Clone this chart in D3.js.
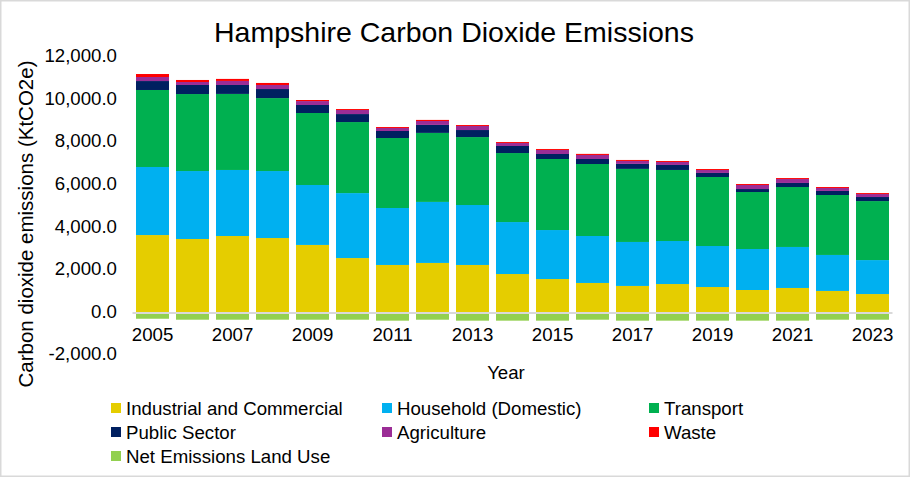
<!DOCTYPE html>
<html>
<head>
<meta charset="utf-8">
<style>
  body { margin: 0; background: #fff; }
  text { font-family: 'Liberation Sans', Arial, sans-serif; fill: #000; }
</style>
</head>
<body>
<script src="https://cdn.jsdelivr.net/npm/d3@7"></script>
<script>
const width = 910;
const height = 477;

// emissions by sector, KtCO2e
const years = [2005, 2006, 2007, 2008, 2009, 2010, 2011, 2012, 2013, 2014, 2015, 2016, 2017, 2018, 2019, 2020, 2021, 2022, 2023];
const industrial = [3660, 3475, 3615, 3520, 3195, 2580, 2255, 2350, 2255, 1830, 1595, 1410, 1270, 1360, 1220, 1080, 1175, 1035, 890];
const household = [3195, 3190, 3100, 3145, 2815, 3050, 2675, 2865, 2815, 2440, 2300, 2205, 2065, 2020, 1925, 1925, 1925, 1690, 1595];
const transport = [3615, 3615, 3570, 3425, 3380, 3335, 3285, 3240, 3190, 3240, 3335, 3380, 3430, 3335, 3240, 2675, 2815, 2815, 2770];
const publicSector = [420, 425, 420, 425, 375, 375, 330, 375, 330, 330, 235, 235, 235, 235, 190, 140, 190, 190, 190];
const agriculture = [190, 140, 190, 190, 185, 190, 140, 185, 190, 140, 190, 190, 140, 140, 140, 190, 185, 140, 140];
const waste = [140, 95, 95, 95, 50, 45, 45, 50, 45, 45, 45, 50, 45, 45, 45, 45, 45, 45, 45];
const landUse = [-270, -315, -315, -315, -315, -315, -360, -315, -360, -360, -360, -315, -360, -360, -360, -360, -360, -315, -315];

const seriesNames = ['Industrial and Commercial', 'Household (Domestic)', 'Transport', 'Public Sector', 'Agriculture', 'Waste', 'Net Emissions Land Use'];
const seriesValues = [industrial, household, transport, publicSector, agriculture, waste, landUse];
const colors = ['#e5cd00', '#00b0f0', '#00b050', '#002060', '#9b2d96', '#ff0000', '#92d050'];
const yTicks = [-2000, 0, 2000, 4000, 6000, 8000, 10000, 12000];

const rows = years.map((yr, i) => {
    const row = { year: yr };
    seriesNames.forEach((name, j) => { row[name] = seriesValues[j][i]; });
    return row;
});

const svg = d3.select('body').append('svg');
svg.attr('width', width);
svg.attr('height', height);

svg.append('rect')
.attr('x', 0.75).attr('y', 0.75)
.attr('width', width - 1.5).attr('height', height - 1.5)
.attr('fill', '#fff')
.attr('stroke', '#d9d9d9')
.attr('stroke-width', 1.5);

const x = d3.scaleBand()
.domain(years)
.range([132.5, 892.5])
.paddingInner(0.175)
.paddingOuter(0.0875);

const y = d3.scaleLinear()
.domain([-2000, 12000])
.range([355.6, 57.4]);

const stack = d3.stack()
.keys(seriesNames)
.offset(d3.stackOffsetDiverging);

const layers = stack(rows);

svg.append('g')
.selectAll('g')
.data(layers)
.join('g')
.attr('fill', (d, i) => colors[i])
.selectAll('rect')
.data((d) => d)
.join('rect')
.attr('x', (d) => x(d.data.year))
.attr('width', x.bandwidth())
.attr('y', (d) => y(Math.max(d[0], d[1])))
.attr('height', (d) => Math.abs(y(d[0]) - y(d[1])));

// zero line
svg.append('line')
.attr('x1', 132.5).attr('x2', 892.5)
.attr('y1', y(0)).attr('y2', y(0))
.attr('stroke', '#d9d9d9')
.attr('stroke-width', 2);

const locale = d3.formatLocale({ decimal: '.', thousands: ',', grouping: [3], currency: ['', ''], minus: '-' });
const fmt = locale.format(',.1f');

const yAxis = svg.append('g')
.attr('transform', 'translate(117,0)')
.call(d3.axisLeft(y).tickValues(yTicks).tickFormat(fmt).tickSize(0).tickPadding(0));
yAxis.select('.domain').remove();
yAxis.selectAll('text')
.attr('font-size', 18.67)
.attr('font-family', 'Liberation Sans, Arial, sans-serif')
.attr('fill', '#000')
.attr('dy', '0.23em');

const xAxis = svg.append('g')
.attr('transform', 'translate(0,341)')
.call(d3.axisBottom(x).tickValues(years.filter((d, i) => i % 2 === 0)).tickSize(0).tickPadding(0));
xAxis.select('.domain').remove();
xAxis.selectAll('text')
.attr('font-size', 18.67)
.attr('font-family', 'Liberation Sans, Arial, sans-serif')
.attr('fill', '#000')
.attr('dy', 0)
.attr('y', 0);

svg.append('text')
.attr('x', 454)
.attr('y', 42)
.attr('text-anchor', 'middle')
.attr('font-size', 28.5)
.text('Hampshire Carbon Dioxide Emissions');

svg.append('text')
.attr('transform', 'translate(33,224) rotate(-90)')
.attr('text-anchor', 'middle')
.attr('font-size', 20.5)
.text('Carbon dioxide emissions (KtCO2e)');

svg.append('text')
.attr('x', 506)
.attr('y', 379)
.attr('text-anchor', 'middle')
.attr('font-size', 18.67)
.text('Year');

// legend, three columns
const legendX = [111, 382, 649];
const legendY = [408, 432, 456];
const legend = svg.append('g')
.selectAll('g')
.data(seriesNames)
.join('g')
.attr('transform', (d, i) => `translate(${legendX[i % 3]},${legendY[Math.floor(i / 3)]})`);

legend.append('rect')
.attr('y', -5)
.attr('width', 10)
.attr('height', 10)
.attr('fill', (d, i) => colors[i]);

legend.append('text')
.attr('x', 15)
.attr('y', 6.5)
.attr('font-size', 18.67)
.text((d) => d);
</script>
</body>
</html>
